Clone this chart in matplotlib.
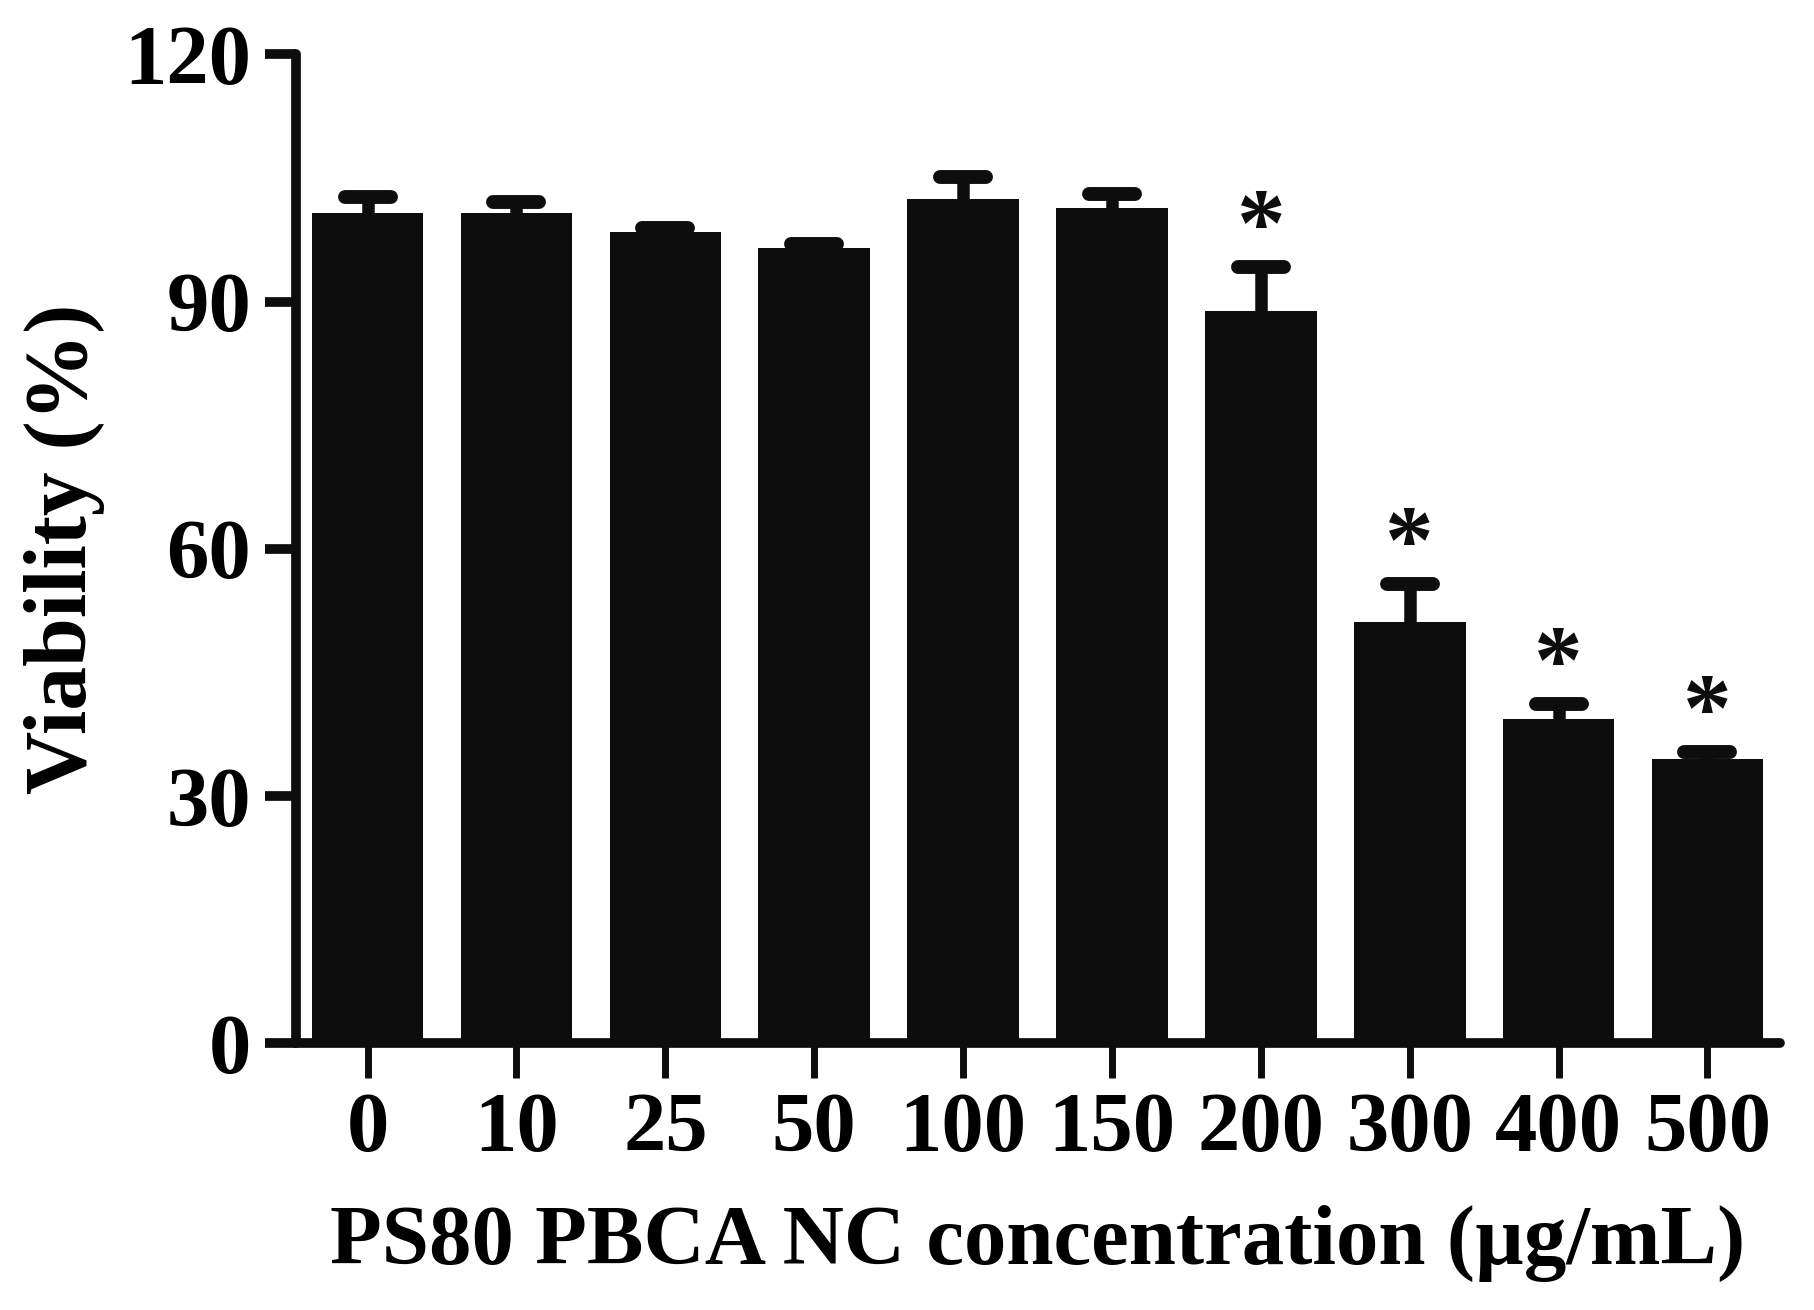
import matplotlib
matplotlib.use('Agg')
import matplotlib.pyplot as plt
from matplotlib.markers import MarkerStyle

# cell viability vs nanocapsule concentration
concentrations = ['0', '10', '25', '50', '100', '150', '200', '300', '400', '500']
viability = [100.8, 100.7, 98.4, 96.5, 102.5, 101.4, 88.9, 51.1, 39.4, 34.5]
sd_upper = [1.9, 1.4, 0.5, 0.5, 2.6, 1.7, 5.3, 4.7, 1.8, 0.9]
significant = [False, False, False, False, False, False, True, True, True, True]

yticks = [0, 30, 60, 90, 120]

plt.rcParams['font.family'] = ['Liberation Serif', 'DejaVu Serif']
plt.rcParams['font.weight'] = 'bold'

black = '#0d0d0d'

fig = plt.figure(figsize=(18.14, 13.10), dpi=100)
ax = fig.add_axes([0.163, 0.2035, 0.8185, 0.755])

x = list(range(len(concentrations)))
ax.bar(x, viability, width=0.75, color=black, edgecolor='none', zorder=2)

eb = ax.errorbar(x, viability, yerr=[[0] * len(x), sd_upper], fmt='none',
                 ecolor=black, elinewidth=9, capsize=16.5, capthick=10, zorder=1)
# only the upper cap is shown
eb[1][0].set_visible(False)
eb[1][1].set_marker(MarkerStyle('_', capstyle='round'))

for xi, v, e, sig in zip(x, viability, sd_upper, significant):
    if sig:
        ax.text(xi, v + e + 4.3, '*', ha='center', va='center',
                fontsize=70, fontweight='bold', color=black)

ax.set_xlim(-0.483, 9.49)
ax.set_ylim(0, 120)
ax.set_xticks(x)
ax.set_xticklabels(concentrations)
ax.set_yticks(yticks)
ax.set_yticklabels([str(t) for t in yticks])

for side in ['top', 'right']:
    ax.spines[side].set_visible(False)
for side in ['left', 'bottom']:
    ax.spines[side].set_linewidth(7)
    ax.spines[side].set_color(black)
    ax.spines[side].set_capstyle('round')

ax.tick_params(axis='y', length=22, width=7, color=black, pad=10, labelsize=61)
ax.tick_params(axis='x', length=25, width=5, color=black, pad=10, labelsize=61)

ax.set_ylabel('Viability (%)', fontsize=63, fontweight='bold', labelpad=14)
ax.set_xlabel('PS80 PBCA NC concentration (\u00b5g/mL)', fontsize=61,
              fontweight='bold', labelpad=26)

fig.savefig('out.png', dpi=100)
